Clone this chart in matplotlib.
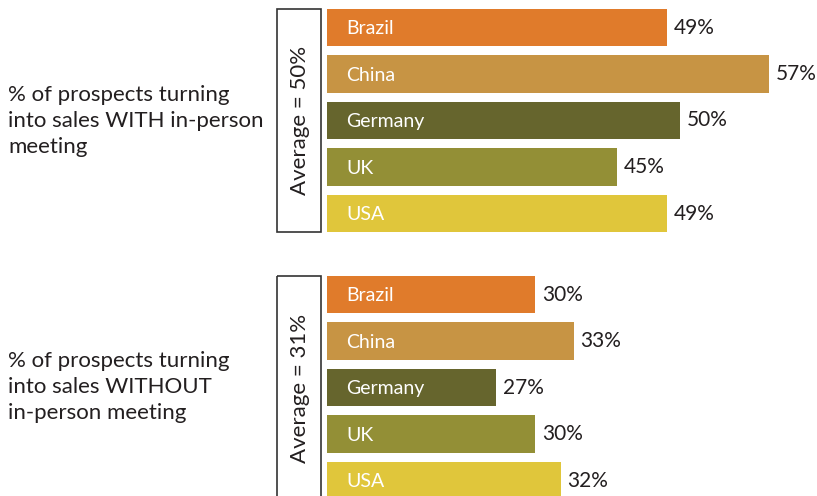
import matplotlib.pyplot as plt
from matplotlib.patches import Rectangle

countries = ["Brazil", "China", "Germany", "UK", "USA"]
with_meeting = [49, 57, 50, 45, 49]
without_meeting = [30, 33, 27, 30, 32]
avg_with = 50
avg_without = 31
bar_colors = ["#E07B2B", "#C79444", "#66652D", "#938F36", "#E0C63B"]

TEXT = "#231F20"
FONT = "Lato"
W, H = 817, 496

plt.rcParams["font.family"] = [FONT, "DejaVu Sans"]

fig = plt.figure(figsize=(W / 100, H / 100), dpi=100)

# full-figure layer in pixel units for the side labels and boxes
bg = fig.add_axes([0, 0, 1, 1])
bg.set_xlim(0, W)
bg.set_ylim(H, 0)
bg.axis("off")


def panel(top_px, x_lo, px_per_pct, values, avg, caption, caption_y,
          box_top, box_bottom, avg_y):
    slot = 46.5
    ax = fig.add_axes([327 / W, 1 - (top_px + 5 * slot) / H,
                       (W - 327) / W, 5 * slot / H])
    ax.set_xlim(x_lo, x_lo + 490 / px_per_pct)
    ax.set_ylim(4.5, -0.5)
    ax.axis("off")
    pos = list(range(len(countries)))
    ax.barh(pos, values, height=0.8, color=bar_colors)
    for p, name, v in zip(pos, countries, values):
        ax.text(x_lo + 19 / px_per_pct, p + 0.03, name, color="white",
                fontsize=14, va="center", ha="left")
        ax.annotate(f"{v}%", (v, p), xytext=(5, 0), textcoords="offset points",
                    color=TEXT, fontsize=15, va="center", ha="left")

    bg.add_patch(Rectangle((277, box_top), 44, box_bottom - box_top,
                           fill=False, edgecolor="#333333", lw=1.2))
    bg.text(300, avg_y, f"Average = {avg}%", rotation=90, ha="center",
            va="center", fontsize=16, color=TEXT)
    bg.text(8, caption_y, caption, ha="left", va="center", fontsize=16,
            color=TEXT, linespacing=1.4)


panel(4.25, 22.15, 12.67, with_meeting, avg_with,
      "% of prospects turning\ninto sales WITH in-person\nmeeting", 121,
      9, 232, 120)
panel(271.3, 13.8, 12.84, without_meeting, avg_without,
      "% of prospects turning\ninto sales WITHOUT\nin-person meeting", 387,
      276, 520, 388)

fig.savefig("out.png", dpi=100)
